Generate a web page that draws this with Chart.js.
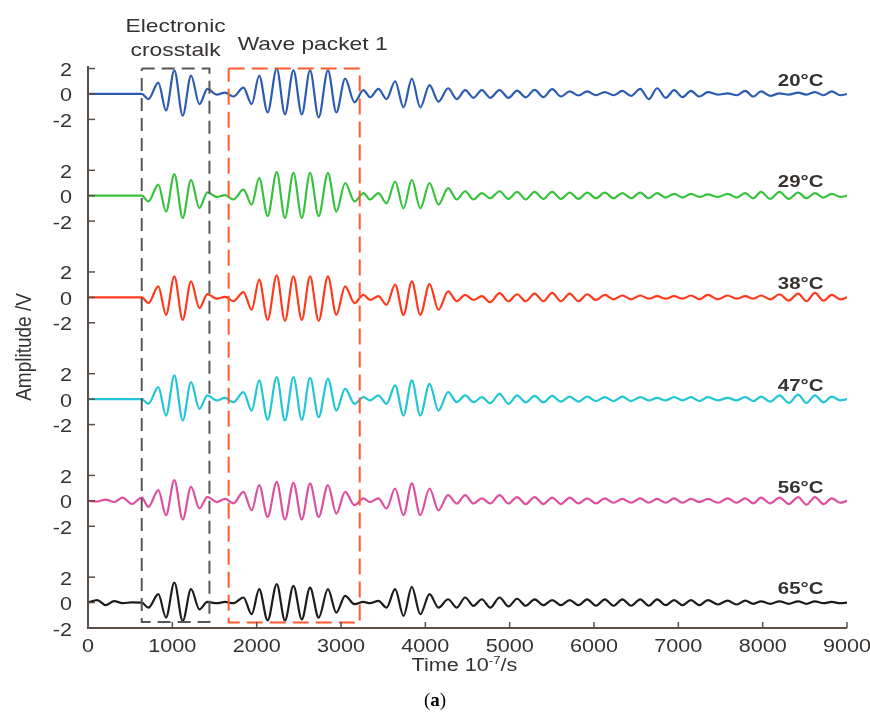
<!DOCTYPE html>
<head>
  <title></title>
  <style>
   * { margin: 0; padding: 0; box-sizing: border-box; }
   body { background: #fff; }
   #chartBox { width: 870px; height: 719px; }
  </style>
</head>
<body>
<div id="chartBox">
  <canvas id="myChartWaves" width="870" height="719"></canvas>
</div>
<script src="https://cdn.jsdelivr.net/npm/chart.js"></script>
<script>

	// time of each peak / trough (10^-7 s), shared by all traces
	const times = [
		0, 110, 210, 310, 410, 520, 637, 716, 834, 925,
		1024, 1123, 1222, 1321, 1416, 1526, 1625, 1724, 1843, 1941,
		2030, 2130, 2238, 2335, 2436, 2535, 2633, 2735, 2845, 2945,
		3049, 3160, 3266, 3345, 3444, 3540, 3642, 3741, 3840, 3940,
		4050, 4156, 4270, 4373, 4472, 4571, 4670, 4769, 4880, 4986,
		5088, 5190, 5296, 5400, 5504, 5608, 5712, 5816, 5920, 6024,
		6128, 6232, 6336, 6440, 6548, 6650, 6748, 6850, 6950, 7050,
		7150, 7250, 7350, 7470, 7585, 7690, 7794, 7890, 7980, 8090,
		8200, 8310, 8420, 8520, 8620, 8720, 8820, 8920, 9000
	]

	// amplitude (V) at each of those times, one list per temperature
	const amp20 = [
		0, 0, 0, 0, 0, 0, 0, -0.4, 0.9, -1.3,
		1.85, -1.7, 1.45, -0.8, 0.4, -0.05, 0.1, -0.2, 0.5, -0.8,
		1.45, -1.45, 2.0, -1.6, 1.85, -1.6, 1.85, -1.85, 1.85, -1.45,
		1.2, -0.65, 0.3, -0.25, 0.4, -0.4, 1.0, -1.05, 1.2, -1.05,
		0.7, -0.6, 0.45, -0.4, 0.3, -0.3, 0.3, -0.3, 0.3, -0.3,
		0.26, -0.26, 0.32, -0.25, 0.38, -0.2, 0.2, -0.12, 0.2, -0.1,
		0.15, -0.1, 0.25, -0.15, 0.4, -0.4, 0.45, -0.3, 0.3, -0.25,
		0.25, -0.2, 0.15, -0.05, 0.05, -0.1, 0.25, -0.2, 0.2, -0.15,
		0.05, -0.05, 0.1, -0.05, 0.15, -0.1, 0.2, -0.1, 0
	]
	const amp29 = [
		0, 0, 0, 0, 0, 0, 0, -0.45, 0.87, -1.25,
		1.7, -1.75, 1.25, -0.97, 0.26, -0.1, 0.05, -0.3, 0.47, -0.7,
		1.4, -1.6, 1.85, -1.75, 1.8, -1.75, 1.8, -1.6, 1.8, -1.25,
		1.0, -0.45, 0.2, -0.3, 0.2, -0.6, 1.1, -1.0, 1.25, -1.0,
		1.0, -0.7, 0.6, -0.3, 0.35, -0.3, 0.2, -0.2, 0.35, -0.25,
		0.3, -0.3, 0.3, -0.25, 0.3, -0.25, 0.25, -0.25, 0.25, -0.2,
		0.25, -0.2, 0.2, -0.2, 0.25, -0.2, 0.2, -0.15, 0.15, -0.15,
		0.15, -0.1, 0.1, -0.1, 0.15, -0.15, 0.2, -0.2, 0.3, -0.25,
		0.3, -0.25, 0.25, -0.2, 0.2, -0.15, 0.15, -0.1, 0
	]
	const amp38 = [
		0, 0, 0, 0, 0, 0, 0, -0.45, 0.87, -1.37,
		1.65, -1.76, 1.26, -0.84, 0.26, -0.1, 0.05, -0.3, 0.42, -0.97,
		1.4, -1.76, 1.74, -1.84, 1.65, -1.76, 1.65, -1.84, 1.65, -1.37,
		0.87, -0.45, 0.2, -0.2, 0.1, -0.58, 1.0, -1.37, 1.26, -1.37,
		1.05, -0.97, 0.47, -0.3, 0.2, -0.2, 0.1, -0.37, 0.34, -0.3,
		0.25, -0.3, 0.3, -0.3, 0.35, -0.3, 0.3, -0.3, 0.25, -0.2,
		0.2, -0.15, 0.15, -0.15, 0.15, -0.1, 0.1, -0.1, 0.1, -0.1,
		0.15, -0.15, 0.2, -0.15, 0.15, -0.1, 0.1, -0.1, 0.15, -0.15,
		0.25, -0.25, 0.3, -0.3, 0.35, -0.25, 0.2, -0.15, 0
	]
	const amp47 = [
		0, 0, 0, 0, 0, 0, 0, -0.37, 0.95, -1.3,
		1.87, -1.68, 1.34, -0.76, 0.29, -0.1, 0.1, -0.24, 0.55, -0.9,
		1.47, -1.63, 1.74, -1.68, 1.74, -1.63, 1.68, -1.42, 1.6, -0.9,
		0.82, -0.37, 0.15, -0.1, 0.29, -0.37, 1.08, -1.29, 1.47, -1.29,
		1.2, -0.9, 0.55, -0.24, 0.29, -0.24, 0.15, -0.32, 0.42, -0.37,
		0.3, -0.25, 0.25, -0.25, 0.25, -0.2, 0.2, -0.2, 0.2, -0.15,
		0.15, -0.15, 0.2, -0.15, 0.15, -0.1, 0.1, -0.1, 0.15, -0.1,
		0.15, -0.15, 0.15, -0.1, 0.1, -0.1, 0.15, -0.15, 0.2, -0.2,
		0.3, -0.3, 0.35, -0.3, 0.3, -0.25, 0.2, -0.1, 0
	]
	const amp56 = [
		0, -0.05, 0.1, -0.1, 0.25, -0.25, 0.26, -0.47, 0.84, -1.13,
		1.63, -1.47, 1.1, -0.6, 0.32, -0.1, 0.15, -0.2, 0.7, -0.74,
		1.24, -1.26, 1.5, -1.47, 1.42, -1.47, 1.37, -1.26, 1.24, -1.0,
		0.7, -0.34, 0.2, -0.1, 0.2, -0.6, 0.97, -1.13, 1.37, -1.13,
		0.97, -0.74, 0.45, -0.21, 0.45, -0.21, 0.2, -0.21, 0.45, -0.21,
		0.3, -0.25, 0.3, -0.25, 0.25, -0.25, 0.25, -0.2, 0.2, -0.2,
		0.2, -0.15, 0.15, -0.15, 0.2, -0.15, 0.15, -0.15, 0.2, -0.15,
		0.15, -0.1, 0.15, -0.15, 0.2, -0.15, 0.2, -0.2, 0.25, -0.2,
		0.25, -0.25, 0.3, -0.3, 0.3, -0.25, 0.2, -0.15, 0
	]
	const amp65 = [
		0, 0.2, -0.2, 0.12, -0.05, 0.02, 0, -0.4, 0.66, -1.18,
		1.58, -1.45, 1.05, -0.53, 0.05, -0.05, 0.05, -0.05, 0.4, -0.92,
		1.05, -1.4, 1.45, -1.4, 1.32, -1.32, 1.18, -1.18, 1.05, -0.79,
		0.53, -0.13, 0.05, -0.05, 0.13, -0.4, 1.05, -1.05, 1.24, -0.92,
		0.66, -0.4, 0.26, -0.4, 0.4, -0.26, 0.26, -0.4, 0.4, -0.3,
		0.3, -0.25, 0.25, -0.2, 0.2, -0.2, 0.2, -0.2, 0.25, -0.25,
		0.25, -0.25, 0.25, -0.25, 0.25, -0.25, 0.25, -0.2, 0.2, -0.2,
		0.2, -0.2, 0.2, -0.15, 0.15, -0.15, 0.15, -0.1, 0.1, -0.1,
		0.1, -0.1, 0.1, -0.1, 0.1, -0.05, 0.05, -0.05, 0
	]

	const series = [amp20, amp29, amp38, amp47, amp56, amp65]
	const tempLabels = ["20\u00b0C", "29\u00b0C", "38\u00b0C", "47\u00b0C", "56\u00b0C", "65\u00b0C"]
	// each trace sits 8 V above the next one
	const traceOffsets = [40, 32, 24, 16, 8, 0]
	const xTickValues = [0, 1000, 2000, 3000, 4000, 5000, 6000, 7000, 8000, 9000]
	const yTickValues = [2, 0, -2]

	// dashed boxes: [t start, t end, top, bottom]
	const crosstalkBox = [637, 1440, 42.0, -1.53]
	const packetBox = [1668, 3222, 42.0, -1.57]

	const traceColors = ["#2c5cb2", "#36c23c", "#ff3a1c", "#20c6d6", "#dd4f9f", "#1f1b18"]
	const textColor = "#363230"
	const axisColor = "#5a504a"
	const SX = 1.2 // the original figure is stretched sideways

	function boxPoints(b) {
		return [
			{x: b[0], y: b[2]}, {x: b[1], y: b[2]}, {x: b[1], y: b[3]},
			{x: b[0], y: b[3]}, {x: b[0], y: b[2]}
		]
	}

	const datasets = series.map((amp, i) => ({
		label: tempLabels[i],
		data: times.map((t, k) => ({x: t, y: amp[k] + traceOffsets[i]})),
		borderColor: traceColors[i],
		borderWidth: 2.2,
		pointRadius: 0,
		cubicInterpolationMode: 'monotone',
		order: 2
	}))
	datasets.push({
		label: "Electronic crosstalk",
		data: boxPoints(crosstalkBox),
		borderColor: "#575757",
		borderWidth: 2,
		borderDash: [13, 7],
		pointRadius: 0,
		tension: 0,
		order: 1
	})
	datasets.push({
		label: "Wave packet 1",
		data: boxPoints(packetBox),
		borderColor: "#ff5a2e",
		borderWidth: 2,
		borderDash: [16, 7],
		pointRadius: 0,
		tension: 0,
		order: 0
	})

	// text in the figure is wider than a normal font, so draw it scaled
	function wideText(ctx, s, x, y, font, align) {
		ctx.save()
		ctx.font = font
		ctx.translate(x, y)
		ctx.scale(SX, 1)
		ctx.textAlign = align || 'center'
		ctx.fillText(s, 0, 0)
		ctx.restore()
	}

	const decor = {
		id: 'decor',
		afterDraw(chart) {
			const ctx = chart.ctx
			const area = chart.chartArea
			const xs = chart.scales.x
			const ys = chart.scales.y
			ctx.save()
			ctx.strokeStyle = axisColor
			ctx.fillStyle = textColor
			ctx.textBaseline = 'alphabetic'

			// axis lines
			ctx.lineWidth = 2
			ctx.beginPath()
			ctx.moveTo(area.left, area.top)
			ctx.lineTo(area.left, area.bottom)
			ctx.lineTo(area.right, area.bottom)
			ctx.stroke()

			// x ticks, pointing inward
			ctx.lineWidth = 1.5
			xTickValues.forEach(v => {
				const px = xs.getPixelForValue(v)
				ctx.beginPath()
				ctx.moveTo(px, area.bottom)
				ctx.lineTo(px, area.bottom - 6)
				ctx.stroke()
				wideText(ctx, String(v), px, area.bottom + 24, '18px "Liberation Sans"')
			})

			// y ticks, three per trace
			traceOffsets.forEach(off => {
				yTickValues.forEach(v => {
					const py = ys.getPixelForValue(off + v)
					ctx.beginPath()
					ctx.moveTo(area.left, py)
					ctx.lineTo(area.left + 7, py)
					ctx.stroke()
					wideText(ctx, String(v), area.left - 16, py + 7.5, '18px "Liberation Sans"', 'right')
				})
			})

			// temperature labels
			tempLabels.forEach((s, i) => {
				wideText(ctx, s, xs.getPixelForValue(8450), ys.getPixelForValue(traceOffsets[i] + 0.65),
					'bold 17px "Liberation Sans"')
			})

			// box captions
			const ctMid = xs.getPixelForValue((crosstalkBox[0] + crosstalkBox[1]) / 2)
			wideText(ctx, "Electronic", ctMid, area.top - 34, '19px "Liberation Sans"')
			wideText(ctx, "crosstalk", ctMid, area.top - 10, '19px "Liberation Sans"')
			wideText(ctx, "Wave packet 1", xs.getPixelForValue(packetBox[0]) + 9, area.top - 16,
				'19px "Liberation Sans"', 'left')

			// x axis title with superscript
			const midX = (area.left + area.right) / 2 - 3
			const baseY = area.bottom + 43
			ctx.font = '18px "Liberation Sans"'
			const w1 = ctx.measureText("Time 10").width * SX
			const w3 = ctx.measureText("/s").width * SX
			ctx.font = '11px "Liberation Sans"'
			const w2 = ctx.measureText("-7").width * SX
			let left = midX - (w1 + w2 + w3) / 2
			wideText(ctx, "Time 10", left, baseY, '18px "Liberation Sans"', 'left')
			wideText(ctx, "-7", left + w1, baseY - 7, '11px "Liberation Sans"', 'left')
			wideText(ctx, "/s", left + w1 + w2, baseY, '18px "Liberation Sans"', 'left')

			// y axis title, rotated; the stretch now acts across the letters
			ctx.save()
			ctx.translate(31, (area.top + area.bottom) / 2)
			ctx.rotate(-Math.PI / 2)
			ctx.scale(1, SX)
			ctx.font = '19px "Liberation Sans"'
			ctx.textAlign = 'center'
			ctx.fillText("Amplitude /V", 0, 0)
			ctx.restore()

			// panel tag
			ctx.fillStyle = "#000"
			ctx.font = '19px "Liberation Serif"'
			const wp = ctx.measureText("(").width
			ctx.font = 'bold 19px "Liberation Serif"'
			const wa = ctx.measureText("a").width
			const tagLeft = 435 - (2 * wp + wa) / 2
			ctx.textAlign = 'left'
			ctx.font = '19px "Liberation Serif"'
			ctx.fillText("(", tagLeft, 706)
			ctx.fillText(")", tagLeft + wp + wa, 706)
			ctx.font = 'bold 19px "Liberation Serif"'
			ctx.fillText("a", tagLeft + wp, 706)

			ctx.restore()
		}
	}

	new Chart(
	    document.getElementById('myChartWaves'),
	    {
	      type: 'line',
	      data: { datasets: datasets },
	      options: {
	          responsive: false,
	          animation: false,
	          devicePixelRatio: 1,
	          layout: { padding: { left: 88, right: 23, top: 66, bottom: 91 } },
	          scales: {
	              x: { type: 'linear', display: false, min: 0, max: 9000 },
	              y: { type: 'linear', display: false, min: -2, max: 42.2 }
	          },
	          plugins: {
	              legend: { display: false },
	              tooltip: { enabled: false }
	          }
	      },
	      plugins: [decor]
	    }
	  );

</script>

</body>
</html>
